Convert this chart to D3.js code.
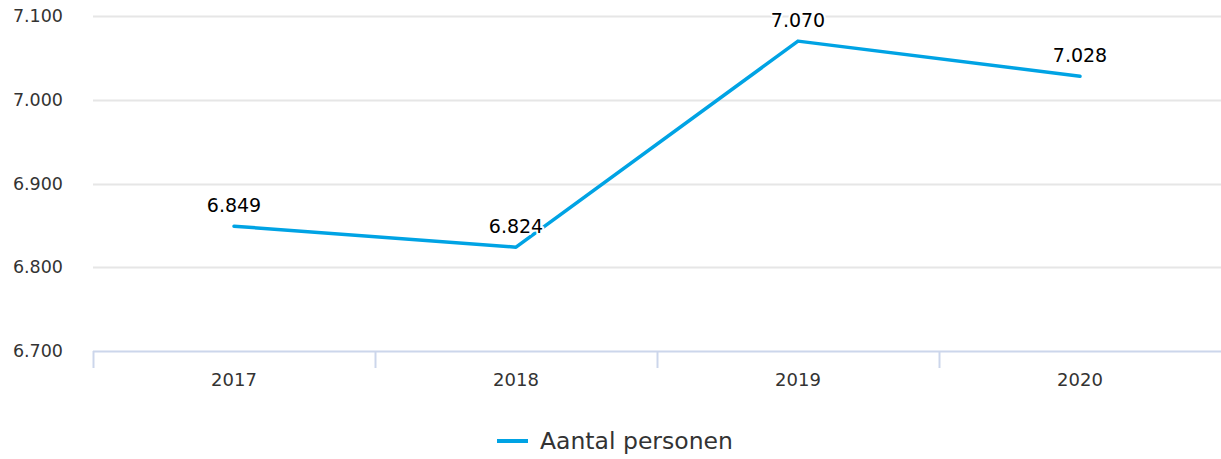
<!DOCTYPE html>
<html><head><meta charset="utf-8">
<script src="https://cdn.jsdelivr.net/npm/d3@7"></script>
<style>body{margin:0;background:#fff}svg{display:block}</style>
</head><body>
<svg id="c" width="1221" height="459"></svg>
<script>
const categories = ["2017","2018","2019","2020"];
const values = [6849, 6824, 7070, 7028];
const valueLabels = ["6.849","6.824","7.070","7.028"];
const yTicks = [6700, 6800, 6900, 7000, 7100];
const yTickLabels = ["6.700","6.800","6.900","7.000","7.100"];
const seriesName = "Aantal personen";

const svg = d3.select("#c");
const font = "DejaVu Sans, Verdana, sans-serif";
const L = 93, R = 1221, T = 16, B = 351;
const x = d3.scaleBand().domain(categories).range([L, R]);
const y = d3.scaleLinear().domain([6700, 7100]).range([B, T]);

// grid
svg.append("g").selectAll("line").data(yTicks.slice(1)).join("line")
  .attr("x1", L).attr("x2", R).attr("y1", d => Math.round(y(d)) + 0.5).attr("y2", d => Math.round(y(d)) + 0.5)
  .attr("stroke", "#e6e6e6").attr("stroke-width", 2);

// y labels
svg.append("g").selectAll("text").data(yTicks).join("text")
  .attr("x", 63).attr("y", d => y(d) + 6).attr("text-anchor", "end")
  .attr("font-family", font).attr("font-size", 17.5).attr("fill", "#333")
  .text((d, i) => yTickLabels[i]);

// x axis
const gx = svg.append("g").attr("transform", `translate(0,${B})`);
gx.append("line").attr("x1", L).attr("x2", R).attr("y1", 0.5).attr("y2", 0.5).attr("stroke", "#ccd6eb").attr("stroke-width", 2);
const bounds = categories.map(c => x(c));
gx.selectAll("line.tick").data(bounds).join("line").attr("class", "tick")
  .attr("x1", d => d + 0.5).attr("x2", d => d + 0.5).attr("y1", 0).attr("y2", 17)
  .attr("stroke", "#ccd6eb").attr("stroke-width", 2);
gx.selectAll("text.lbl").data(categories).join("text").attr("class", "lbl")
  .attr("x", d => x(d) + x.bandwidth() / 2).attr("y", 35).attr("text-anchor", "middle")
  .attr("font-family", font).attr("font-size", 18).attr("fill", "#333").text(d => d);

// line
const pts = categories.map((c, i) => [x(c) + x.bandwidth() / 2, y(values[i])]);
svg.append("path").attr("d", d3.line()(pts)).attr("fill", "none")
  .attr("stroke", "#00a3e4").attr("stroke-width", 3.5).attr("stroke-linejoin", "round").attr("stroke-linecap", "round");

// data labels
svg.append("g").selectAll("text").data(pts).join("text")
  .attr("x", d => d[0]).attr("y", d => d[1] - 14).attr("text-anchor", "middle")
  .attr("font-family", font).attr("font-size", 19).attr("fill", "#000")
  .attr("stroke", "#fff").attr("stroke-width", 4).attr("paint-order", "stroke").attr("stroke-linejoin", "round")
  .text((d, i) => valueLabels[i]);

// legend
const lg = svg.append("g");
lg.append("line").attr("x1", 497).attr("x2", 528).attr("y1", 441).attr("y2", 441).attr("stroke", "#00a3e4").attr("stroke-width", 4);
lg.append("text").attr("x", 540).attr("y", 449).attr("font-family", font).attr("font-size", 23.5).attr("fill", "#333").text(seriesName);
</script>
</body></html>
